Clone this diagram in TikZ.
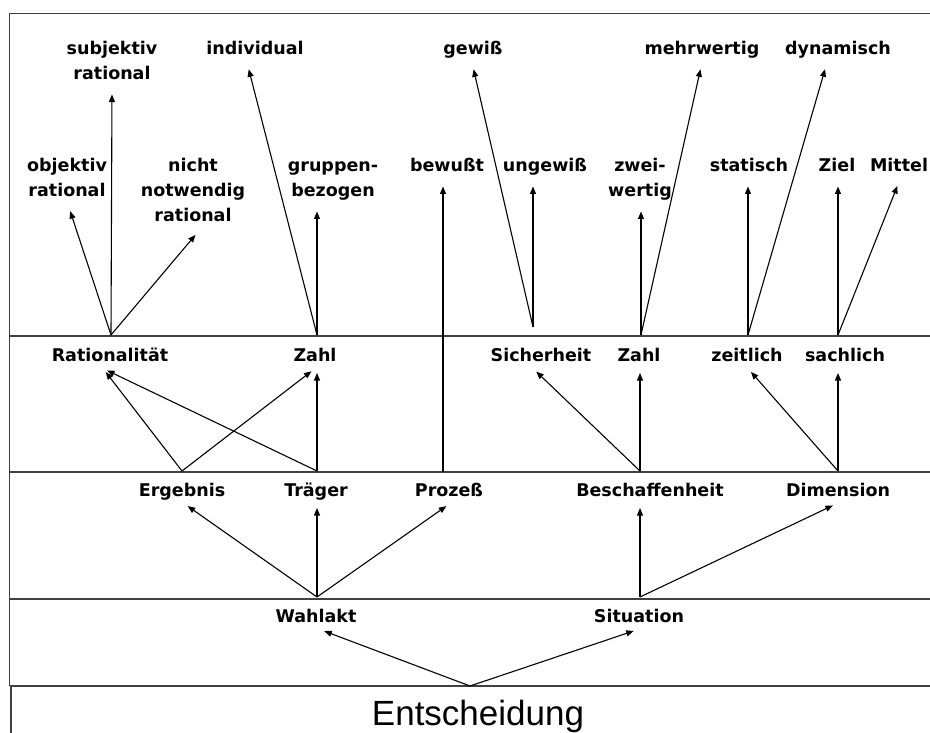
\documentclass[tikz,border=0pt]{standalone}
\usepackage{fontspec}
\setmainfont{DejaVu Sans}
\newfontfamily\entfont{Liberation Sans}
\usetikzlibrary{arrows.meta}

\newcommand\lblfont{\fontsize{17.5}{25}\selectfont\bfseries}
% stacked label lines, each row 25pt high, baseline at the last row
\newcommand\stk[1]{\begin{tabular}[b]{@{}c@{}}#1\end{tabular}}

\tikzset{
  lbl/.style={font=\lblfont, inner sep=0pt, outer sep=0pt, anchor=south},
  arr/.style={draw=black, line width=1.1pt, -{Triangle[length=7.5pt,width=6pt]}, shorten >=7pt},
  arrlow/.style={arr, shorten >=4.5pt},
  rule/.style={draw=black!75, line width=1.5pt}
}

\begin{document}
\begin{tikzpicture}[x=1pt, y=-1pt]
\useasboundingbox (0,0) rectangle (930,733);

% frame and layer dividers
\draw[rule] (930,13.5) -- (9.5,13.5) -- (9.5,686);
\draw[rule] (9.5,336) -- (930,336);
\draw[rule] (9.5,472) -- (930,472);
\draw[rule] (9.5,599) -- (930,599);
\draw[rule] (9.5,686) -- (930,686);
\draw[rule] (11,686) -- (11,733);

% top layer
\node[lbl] (subj) at (112,87.5) {\stk{subjektiv\\rational}};
\node[lbl] (indiv) at (255,62.5) {\stk{individual}};
\node[lbl] (gewiss) at (473,62.5) {\stk{gewiß}};
\node[lbl] (mehr) at (702,62.5) {\stk{mehrwertig}};
\node[lbl] (dyn) at (838,62.5) {\stk{dynamisch}};

\node[lbl] (obj) at (67,204.5) {\stk{objektiv\\rational}};
\node[lbl] (nicht) at (193,229.5) {\stk{nicht\\notwendig\\rational}};
\node[lbl] (grup) at (333,204.5) {\stk{gruppen-\\bezogen}};
\node[lbl] (bewusst) at (447,179.5) {\stk{bewußt}};
\node[lbl] (ungew) at (545,179.5) {\stk{ungewiß}};
\node[lbl] (zwei) at (640,204.5) {\stk{zwei-\\wertig}};
\node[lbl] (stat) at (749,179.5) {\stk{statisch}};
\node[lbl] (ziel) at (837,179.5) {\stk{Ziel}};
\node[lbl] (mittel) at (899,179.5) {\stk{Mittel}};

% second layer
\node[lbl] (rat) at (110,368.5) {\stk{Rationalität}};
\node[lbl] (zahlA) at (315,368.5) {\stk{Zahl}};
\node[lbl] (sich) at (541,368.5) {\stk{Sicherheit}};
\node[lbl] (zahlB) at (639,368.5) {\stk{Zahl}};
\node[lbl] (zeit) at (747,368.5) {\stk{zeitlich}};
\node[lbl] (sach) at (845,368.5) {\stk{sachlich}};

% third layer
\node[lbl] (erg) at (182,503.5) {\stk{Ergebnis}};
\node[lbl] (traeg) at (316,503.5) {\stk{Träger}};
\node[lbl] (proz) at (449,503.5) {\stk{Prozeß}};
\node[lbl] (besch) at (650,503.5) {\stk{Beschaffenheit}};
\node[lbl] (dim) at (838,503.5) {\stk{Dimension}};

% fourth layer
\node[lbl] (wahl) at (316,629.5) {\stk{Wahlakt}};
\node[lbl] (sit) at (639,629.5) {\stk{Situation}};

% root
\node[font=\entfont\fontsize{35}{40}\selectfont, anchor=base, inner sep=0pt] (ent) at (478,725) {Entscheidung};

% branching points on the dividers
\coordinate (s-rat) at (111,335);
\coordinate (s-zahlA) at (317,335);
\coordinate (s-proz) at (443,472);
\coordinate (s-sich) at (533,327);
\coordinate (s-zahlB) at (641,335);
\coordinate (s-zeit) at (748,335);
\coordinate (s-sach) at (838,335);
\coordinate (s-erg) at (182,471);
\coordinate (s-traeg) at (317,471);
\coordinate (s-besch) at (640,471);
\coordinate (s-dim) at (838,471);
\coordinate (s-wahl) at (317,597);
\coordinate (s-sit) at (640,597);
\coordinate (s-ent) at (470,686);

% connectors
\draw[arr] (s-rat) -- ([xshift=1]obj.south);
\draw[arr] (s-rat) -- (subj.south);
\draw[arr] (s-rat) -- ([xshift=7]nicht.south);
\draw[arr] (s-zahlA) -- ([xshift=-8]indiv.south);
\draw[arr] (s-zahlA) -- ([xshift=-16]grup.south);
\draw[arr] (s-proz) -- ([xshift=-4]bewusst.south);
\draw[arr] (s-sich) -- ([xshift=-1]gewiss.south);
\draw[arr] (s-sich) -- ([xshift=-12]ungew.south);
\draw[arr] (s-zahlB) -- ([xshift=1]zwei.south);
\draw[arr] (s-zahlB) -- (mehr.south);
\draw[arr] (s-zeit) -- ([xshift=-1]stat.south);
\draw[arr] (s-zeit) -- ([xshift=-11]dyn.south);
\draw[arr] (s-sach) -- ([xshift=1]ziel.south);
\draw[arr] (s-sach) -- ([xshift=1]mittel.south);

\draw[arrlow] (s-erg) -- ([xshift=-7]rat.south);
\draw[arrlow] (s-erg) -- (zahlA.south);
\draw[arrlow] (s-traeg) -- ([xshift=-7]rat.south);
\draw[arrlow] (s-traeg) -- ([xshift=2]zahlA.south);
\draw[arrlow] (s-besch) -- ([xshift=-8]sich.south);
\draw[arrlow] (s-besch) -- ([xshift=1]zahlB.south);
\draw[arrlow] (s-dim) -- ([xshift=1]zeit.south);
\draw[arrlow] (s-dim) -- ([xshift=-7]sach.south);

\draw[arrlow] (s-wahl) -- ([xshift=2]erg.south);
\draw[arrlow] (s-wahl) -- ([xshift=1]traeg.south);
\draw[arrlow] (s-wahl) -- ([xshift=1]proz.south);
\draw[arrlow] (s-sit) -- ([xshift=-10]besch.south);
\draw[arrlow] (s-sit) -- ([xshift=-1]dim.south);

\draw[arrlow] (s-ent) -- ([xshift=4]wahl.south);
\draw[arrlow] (s-ent) -- ([xshift=-1]sit.south);
\end{tikzpicture}
\end{document}
